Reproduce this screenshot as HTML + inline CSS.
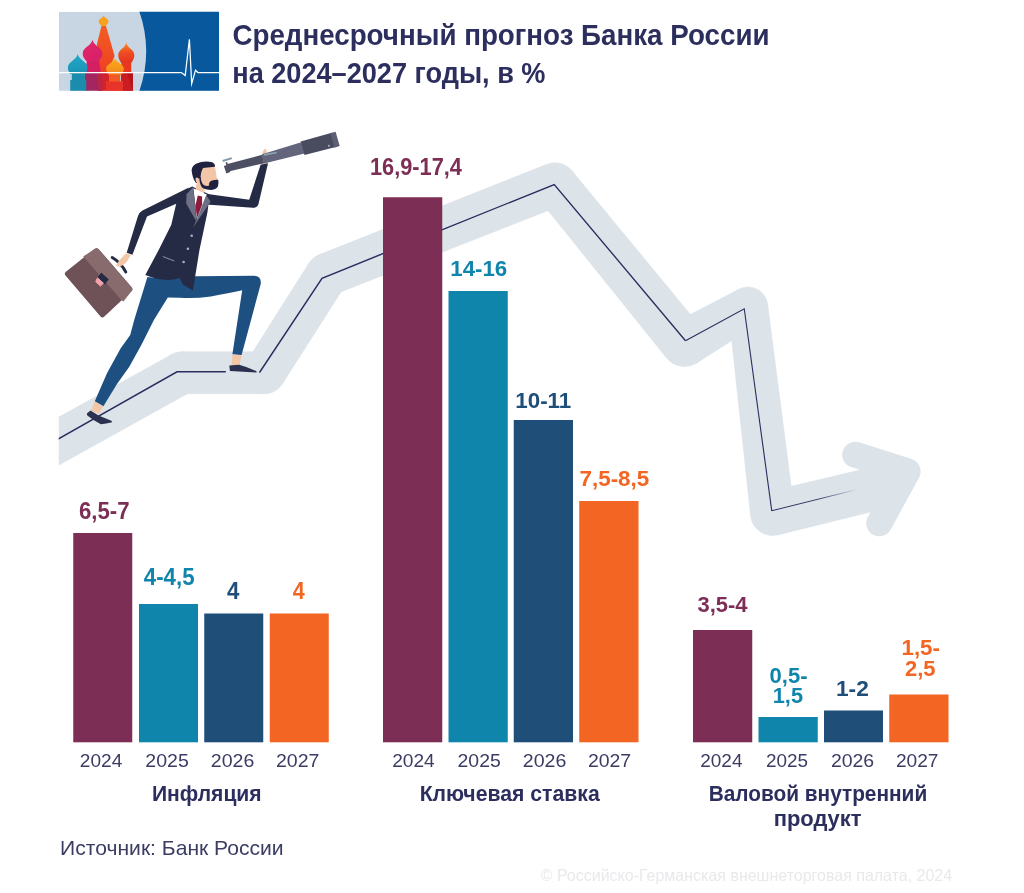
<!DOCTYPE html>
<html lang="ru">
<head>
<meta charset="utf-8">
<title>Среднесрочный прогноз Банка России</title>
<style>
html,body{margin:0;padding:0;background:#fff;}
body{width:1024px;height:893px;overflow:hidden;position:relative;font-family:"Liberation Sans",sans-serif;}
svg{position:absolute;left:0;top:0;display:block;}
text{font-family:"Liberation Sans",sans-serif;}
.t{font-size:29.5px;font-weight:bold;fill:#2c2e5e;}
.yr{font-size:19px;fill:#3a3c64;}
.val{font-size:22.5px;font-weight:bold;}
.cat{font-size:22.8px;font-weight:bold;fill:#2c2e5e;}
.src{font-size:21px;fill:#3a3c64;}
.cp{font-size:16.5px;fill:#e9e9ec;}
</style>
</head>
<body>
<svg width="1024" height="893" viewBox="0 0 1024 893">
<defs>
<clipPath id="logoclip"><rect x="59" y="11.7" width="160" height="79"/></clipPath>
<clipPath id="bandclip"><rect x="58.75" y="100" width="965" height="600"/></clipPath>
</defs>
<rect width="1024" height="893" fill="#ffffff"/>

<!-- LOGO -->
<defs>
<linearGradient id="gTeal" x1="0" y1="0" x2="0" y2="1"><stop offset="0" stop-color="#21a9c9"/><stop offset="1" stop-color="#1b93b4"/></linearGradient>
<linearGradient id="gPink" x1="0" y1="0" x2="1" y2="1"><stop offset="0" stop-color="#e5256f"/><stop offset="1" stop-color="#d51f63"/></linearGradient>
<linearGradient id="gYel" x1="0" y1="0" x2="0" y2="1"><stop offset="0" stop-color="#fbb216"/><stop offset="1" stop-color="#f58220"/></linearGradient>
<linearGradient id="gOr" x1="0" y1="0" x2="0" y2="1"><stop offset="0" stop-color="#f7901e"/><stop offset="0.45" stop-color="#f04e23"/><stop offset="1" stop-color="#e5331f"/></linearGradient>
<linearGradient id="gSp" x1="0" y1="0" x2="0" y2="1"><stop offset="0" stop-color="#f15f22"/><stop offset="1" stop-color="#ee3f23"/></linearGradient>
</defs>
<g id="logo" clip-path="url(#logoclip)">
<rect x="59" y="11.7" width="160" height="79.3" fill="#c8d5e3"/>
<path d="M139.2,11 A122.4,122.4 0 0 1 139.2,91.5 L220,91.5 L220,11 Z" fill="#07589d"/>
<path d="M98,72.5 L115,72.5 L115,91 L98,91 Z" fill="#d7222b"/>
<path d="M101.6,25.5 L105.9,25.5 L114.6,56 L111,65 L111,72.5 L97,72.5 L97,44 Z" fill="url(#gSp)"/>
<path d="M103.6,15.4 C104.09,17.92 108.50,18.48 108.50,21.00 C108.50,23.64 106.61,24.84 105.80,25.80 L101.40,25.80 C100.59,24.84 98.70,23.64 98.70,21.00 C98.70,18.48 103.11,17.92 103.6,15.4 Z" fill="#f9a11b"/>
<path d="M121.3,72.5 L121.3,60 L131.2,60 L131.2,72.5 Z" fill="#e8381f"/>
<path d="M126.3,42.6 C127.10,48.18 134.30,49.42 134.30,55.00 C134.30,59.40 132.13,61.40 131.20,63.00 L121.40,63.00 C120.47,61.40 118.30,59.40 118.30,55.00 C118.30,49.42 125.50,48.18 126.3,42.6 Z" fill="url(#gOr)"/>
<path d="M121.2,72.5 L133,72.5 L133,91 L121.2,91 Z" fill="#b8141c"/>
<path d="M121.2,72.5 L127,72.5 L133,91 L121.2,91 Z" fill="#c91d22"/>
<path d="M87.4,58 L98.6,58 L101,72.5 L85,72.5 Z" fill="#d51f63"/>
<path d="M92.5,39.8 C93.48,45.96 102.30,47.34 102.30,53.50 C102.30,57.90 99.36,59.90 98.10,61.50 L86.90,61.50 C85.64,59.90 82.70,57.90 82.70,53.50 C82.70,47.34 91.52,45.96 92.5,39.8 Z" fill="url(#gPink)"/>
<path d="M84.9,72.5 L101.4,72.5 L101.4,91 L84.9,91 Z" fill="#a32660"/>
<path d="M97,72.5 L103,72.5 L103,91 L99,91 Z" fill="#c0253f"/>
<path d="M77.7,54 C78.68,60.08 87.50,61.42 87.50,67.50 C87.50,71.08 85.89,72.70 85.20,74.00 L70.20,74.00 C69.51,72.70 67.90,71.08 67.90,67.50 C67.90,61.42 76.72,60.08 77.7,54 Z" fill="url(#gTeal)"/>
<path d="M71.8,72.5 L84.9,72.5 L84.9,80 L86.3,80 L86.3,91 L70.2,91 L70.2,80 L71.8,80 Z" fill="#1b8cab"/>
<path d="M115,57.8 C115.89,62.75 123.90,63.85 123.90,68.80 C123.90,72.32 121.73,73.92 120.80,75.20 L109.20,75.20 C108.27,73.92 106.10,72.32 106.10,68.80 C106.10,63.85 114.11,62.75 115,57.8 Z" fill="url(#gYel)"/>
<path d="M109,74.5 L120.2,74.5 L120.2,81.5 L123,81.5 L123,91 L106,91 L106,81.5 L109,81.5 Z" fill="#f15a24"/>
<path d="M106,81.5 L123,81.5 L123,91 L106,91 Z" fill="#e8332a"/>
<path d="M59,72.55 L181.4,72.55 L185.2,75.6 L189.4,39.2 L191.7,83.6 L195.5,70.2 L197.9,72.55 L219,72.55" fill="none" stroke="#ffffff" stroke-width="1.25" stroke-linejoin="miter" stroke-miterlimit="10"/>
</g>

<!-- BAND -->
<defs>
<linearGradient id="fade" gradientUnits="userSpaceOnUse" x1="771.75" y1="510.75" x2="857" y2="489.5"><stop offset="0" stop-color="#2b2d5e"/><stop offset="0.55" stop-color="#2b2d5e" stop-opacity="0.9"/><stop offset="1" stop-color="#2b2d5e" stop-opacity="0"/></linearGradient>
</defs>
<g id="band" clip-path="url(#bandclip)">
<g fill="#dce3e9" stroke="#dce3e9" stroke-width="0.6">
<polygon points="50.19,469.96 192.19,391.11 171.81,354.39 29.81,433.24"/>
<polygon points="182.00,393.75 264.50,393.75 264.50,351.75 182.00,351.75"/>
<polygon points="282.22,384.02 344.93,285.91 309.07,263.09 246.78,361.48"/>
<polygon points="334.80,294.27 562.99,204.73 547.01,164.27 319.20,254.73"/>
<polygon points="538.14,198.24 666.67,358.02 702.33,328.98 571.86,170.76"/>
<polygon points="696.02,363.41 757.89,323.84 738.11,289.66 672.98,323.59"/>
<polygon points="728.39,309.07 750.65,516.09 794.35,510.91 767.61,304.43"/>
<polygon points="777.69,534.88 890.07,507.09 879.93,465.31 767.31,492.12"/>
<circle cx="182" cy="372.75" r="21.00"/>
<circle cx="264.5" cy="372.75" r="21.00"/>
<circle cx="327" cy="274.5" r="21.25"/>
<circle cx="555" cy="184.5" r="21.75"/>
<circle cx="684.5" cy="343.5" r="23.00"/>
<circle cx="748" cy="306.75" r="19.75"/>
<circle cx="772.5" cy="513.5" r="22.00"/>
<circle cx="885" cy="486.2" r="21.50"/>
</g>
<polyline points="855.2,454.7 907.6,471.5 879.3,523.3" fill="none" stroke="#dce3e9" stroke-width="26" stroke-linejoin="round" stroke-linecap="round"/>
<g fill="none" stroke="#2b2d5e" stroke-linejoin="miter">
<polyline points="40,449.4 177,371.75 225.8,371.75" stroke-width="1.45"/>
<polyline points="259.4,372.6 260,371.75 322,278.25 384,253.2" stroke-width="1.45"/>
<polyline points="440,230.6 554.25,184.5 685.5,340.75" stroke-width="1.35"/>
<polyline points="685.5,340.75 744.25,308.75 771.75,510.75" stroke-width="1.1"/>
<polyline points="771.5,509.2 771.75,510.75 857,489.5" stroke-width="1" stroke="url(#fade)"/>
</g>
</g>

<!-- BARS -->
<g id="bars">
<rect x="73.25" y="533" width="59" height="209.3" fill="#7d2e55"/>
<rect x="139" y="604" width="59" height="138.3" fill="#1085ab"/>
<rect x="204.25" y="613.5" width="59" height="128.8" fill="#1f4e79"/>
<rect x="269.75" y="613.5" width="59" height="128.8" fill="#f26522"/>
<rect x="383" y="197.25" width="59.25" height="545.05" fill="#7d2e55"/>
<rect x="448.5" y="291" width="59.25" height="451.3" fill="#1085ab"/>
<rect x="513.75" y="420" width="59.25" height="322.3" fill="#1f4e79"/>
<rect x="579.25" y="501" width="59.25" height="241.3" fill="#f26522"/>
<rect x="693" y="630" width="59.25" height="112.3" fill="#7d2e55"/>
<rect x="758.5" y="717" width="59.25" height="25.3" fill="#1085ab"/>
<rect x="824" y="710.5" width="59" height="31.8" fill="#1f4e79"/>
<rect x="889.25" y="694.5" width="59.25" height="47.8" fill="#f26522"/>
</g>

<!-- MAN -->
<g id="man">
<!-- hand on telescope -->
<path d="M261.5,166 L262.6,152.4 Q264.2,148.2 265.4,148.8 L266.6,150.6 L267.6,166 Z" fill="#f4c6a8"/>
<!-- telescope -->
<g id="scope">
<polygon points="227.5,163.9 262.2,154.8 264.1,163.2 228.6,171.6" fill="#4d5063"/>
<polygon points="262,154.3 301.3,142.2 304.5,153.6 263.9,163.4" fill="#62657b"/>
<polygon points="300.7,141.6 331.8,132.7 334.8,147.2 304.5,154.9" fill="#494c5f"/>
<polygon points="330.5,132.9 335.6,131.7 339.7,146 334.3,147.7" fill="#5d6075"/>
<polygon points="223.9,165.9 228.3,164.5 230.3,171.9 226.3,173.4" fill="#4d5063"/>
<polygon points="225.5,162.4 227.1,161.9 228.1,165 226.5,165.5" fill="#4d5063"/>
<polygon points="222.4,160 231.5,157.2 232.1,159.1 223,162.1" fill="#7f97a8"/>
<polygon points="263.9,154 276.6,151.7 276.8,153.3 264.3,155.8" fill="#8fa6b8"/>
<circle cx="328.9" cy="145.8" r="1" fill="#a9b8c6"/>
</g>
<!-- briefcase -->
<g id="case">
<path d="M112.2,257.5 Q120.6,262.2 125.8,272" fill="none" stroke="#252a45" stroke-width="2.9" stroke-linecap="round"/>
<path d="M94.6,248.9 Q96.9,247.2 98.9,249.4 L131.6,287.2 Q133.3,289.2 131.6,291.1 L104.4,316.6 Q102.2,318.6 100.3,316.2 L65.5,275.5 Q63.9,273.4 65.9,271.7 Z" fill="#6f5257"/>
<path d="M83.2,256.6 L94.6,248.9 Q96.9,247.2 98.9,249.4 L131.6,287.2 Q133.3,289.2 131.6,291.1 L123.4,301.6 L121.6,300.2 Z" fill="#876b6d"/>
<path d="M101.3,273.1 L108.2,279.4 L104.7,283.9 L98.1,277.5 Z" fill="#252a45" stroke="#252a45" stroke-width="1" stroke-linejoin="round"/>
<path d="M97.5,277.9 L103.4,283.2 L100.4,286 L95.7,281.7 Z" fill="#f4a3ad" stroke="#f4a3ad" stroke-width="1" stroke-linejoin="round"/>
</g>
<!-- back arm (holding briefcase) -->
<path d="M188.9,187.5 L142.5,210.6 Q139,212.4 137.8,216.5 L126.7,252.8 L132.4,254.7 L147,216.4 L177.4,203.3 Z" fill="#252a45"/>
<!-- hand with briefcase -->
<path d="M126,253.6 L130.3,255.4 L126,262.3 L121.6,265.5 L117.8,266.8 L116.4,264.8 L120.9,259.1 Z" fill="#f4c6a8" stroke="#f4c6a8" stroke-width="0.8" stroke-linejoin="round"/>
<!-- back leg -->
<path d="M147.4,277 L134.2,320 L130.2,335 Q125,342.5 120.7,348.3 L107.1,373 L94.8,401.3 L103.4,406.2 L117,384 L129.3,366.8 L141.6,344.6 L153.9,320 L167.8,297.6 L175,280 Z" fill="#1d4f80"/>
<!-- front leg -->
<path d="M160,276 L196,276.3 L253.9,275.8 Q261.8,276 260.7,284 L241.6,354.9 L232.4,354.3 L242.2,290.3 Q229,293.2 210.8,296.4 Q195,298.6 180,297.7 L167.8,297.6 Z" fill="#1d4f80"/>
<!-- ankles -->
<polygon points="94.6,401.6 103,406 99.4,414 91.2,410.6" fill="#f4c6a8"/>
<polygon points="232.4,354.6 241.6,355.2 239.4,365.6 231.7,365.2" fill="#f4c6a8"/>
<!-- shoes -->
<path d="M86.8,413.4 L90.5,410.4 L98.5,415.5 L110.8,420.4 Q112.8,421.3 112.1,422.3 Q106,424 100.9,424.2 L93.5,419.9 L87.3,415.6 Z" fill="#2d3150"/>
<path d="M229.3,365.5 L239.1,364.7 Q248,367 256.4,371.2 Q257,372 256.4,372.6 L229.9,371 Z" fill="#2d3150"/>
<!-- jacket -->
<path d="M186.2,189.6 L192.1,186.4 L209.5,194.5 L207.5,212 L199.5,249.7 L192.9,290.6 L182.9,284.6 L179.6,278 Q165,283 145.3,275 L159.7,248.1 L171.3,224.8 L176.3,203.2 Z" fill="#252a45"/>
<!-- front arm -->
<path d="M204,193.6 L249.2,199.8 L260.6,164.8 L268,163.2 L258.6,203.6 Q257.6,208 253,207.8 L206,204.4 Z" fill="#252a45"/>
<!-- neck -->
<polygon points="196.4,183 205.2,187 203.6,194.6 195.6,191.8" fill="#f4c6a8"/>
<!-- shirt -->
<polygon points="193.4,188.2 206.8,194.6 197,220.5" fill="#ffffff"/>
<!-- tie -->
<polygon points="197.8,195.4 202.1,196.6 202.1,204.7 197.2,217.8 195.3,206" fill="#8b1a3c"/>
<!-- lapels -->
<polygon points="192.9,187.3 186.5,194.2 186.2,203.5 196.2,221.2 195.1,202.2" fill="#6d7084"/>
<polygon points="206.2,195.3 210.6,201.6 207.7,205.9 192.9,227.7 196.6,219.5" fill="#6d7084"/>
<!-- buttons -->
<circle cx="191.7" cy="235.7" r="1.3" fill="#a9b1c8"/>
<circle cx="187.9" cy="248.8" r="1.3" fill="#a9b1c8"/>
<circle cx="183.6" cy="262" r="1.3" fill="#a9b1c8"/>
<line x1="162.8" y1="256.6" x2="174.3" y2="261" stroke="#7f86a3" stroke-width="1.1"/>
<!-- head -->
<g id="head">
<path d="M201,166.5 L214.9,166 L216.9,178.2 L218.2,180 L217.5,186.4 L211.6,189.8 L202,187 L196,182.5 L195,176 Z" fill="#f4c6a8"/>
<path d="M191.6,170.2 Q192,165.8 196.6,163.6 Q203,160.6 211.4,162 Q215.6,163.4 214.9,166.8 L203,168 Q200.6,172 200.4,177.5 L198.6,178.8 Q196.8,176.6 195.6,178.2 Q195.2,180.6 197.2,183 L195.6,182.6 Q192.4,178 191.6,170.2 Z" fill="#1f2340"/>
<path d="M199.2,177 L200.8,177 Q201,183 204,185.3 Q207,186.4 209.1,185.6 Q208.4,181.6 212,180.4 Q215.6,179.4 218.2,179.8 Q219,183.6 217.9,186.6 Q215.6,189.8 211.6,189.9 Q205,189.8 202,187.4 Q199.4,184 199.2,177 Z" fill="#1f2340"/>
</g>
</g>

<!-- TEXT -->
<g id="texts">
<text x="232.46" y="45.10" class="t" textLength="537.11" lengthAdjust="spacingAndGlyphs">Среднесрочный прогноз Банка России</text>
<text x="232.26" y="83.20" class="t" textLength="313.25" lengthAdjust="spacingAndGlyphs">на 2024–2027 годы, в %</text>
<text x="78.90" y="518.50" class="val" fill="#7d2e55" textLength="50.61" lengthAdjust="spacingAndGlyphs" style="font-size:24.2px">6,5-7</text>
<text x="143.80" y="584.60" class="val" fill="#1085ab" textLength="50.80" lengthAdjust="spacingAndGlyphs" style="font-size:23.2px">4-4,5</text>
<text x="227.10" y="598.50" class="val" fill="#1f4e79" textLength="12.37" lengthAdjust="spacingAndGlyphs" style="font-size:23.5px">4</text>
<text x="292.70" y="598.50" class="val" fill="#f26522" textLength="11.96" lengthAdjust="spacingAndGlyphs" style="font-size:23.5px">4</text>
<text x="369.98" y="175.20" class="val" fill="#7d2e55" textLength="92.01" lengthAdjust="spacingAndGlyphs" style="font-size:23.7px">16,9-17,4</text>
<text x="450.26" y="275.75" class="val" fill="#1085ab" textLength="57.00" lengthAdjust="spacingAndGlyphs">14-16</text>
<text x="515.26" y="407.50" class="val" fill="#1f4e79" textLength="56.01" lengthAdjust="spacingAndGlyphs">10-11</text>
<text x="579.50" y="486.25" class="val" fill="#f26522" textLength="69.76" lengthAdjust="spacingAndGlyphs">7,5-8,5</text>
<text x="697.50" y="612.00" class="val" fill="#7d2e55" textLength="50.03" lengthAdjust="spacingAndGlyphs">3,5-4</text>
<text x="769.50" y="682.50" class="val" fill="#1085ab" textLength="37.98" lengthAdjust="spacingAndGlyphs">0,5-</text>
<text x="772.78" y="703.00" class="val" fill="#1085ab" textLength="30.21" lengthAdjust="spacingAndGlyphs">1,5</text>
<text x="835.99" y="696.25" class="val" fill="#1f4e79" textLength="32.78" lengthAdjust="spacingAndGlyphs">1-2</text>
<text x="901.51" y="655.00" class="val" fill="#f26522" textLength="38.48" lengthAdjust="spacingAndGlyphs">1,5-</text>
<text x="905.00" y="676.25" class="val" fill="#f26522" textLength="30.50" lengthAdjust="spacingAndGlyphs">2,5</text>
<text x="79.80" y="767.40" class="yr" textLength="42.46" lengthAdjust="spacingAndGlyphs">2024</text>
<text x="145.30" y="767.40" class="yr" textLength="43.48" lengthAdjust="spacingAndGlyphs">2025</text>
<text x="210.80" y="767.40" class="yr" textLength="43.48" lengthAdjust="spacingAndGlyphs">2026</text>
<text x="276.00" y="767.40" class="yr" textLength="43.48" lengthAdjust="spacingAndGlyphs">2027</text>
<text x="392.20" y="767.40" class="yr" textLength="42.56" lengthAdjust="spacingAndGlyphs">2024</text>
<text x="457.50" y="767.40" class="yr" textLength="43.28" lengthAdjust="spacingAndGlyphs">2025</text>
<text x="522.80" y="767.40" class="yr" textLength="43.58" lengthAdjust="spacingAndGlyphs">2026</text>
<text x="587.90" y="767.40" class="yr" textLength="43.28" lengthAdjust="spacingAndGlyphs">2027</text>
<text x="700.20" y="767.40" class="yr" textLength="42.27" lengthAdjust="spacingAndGlyphs">2024</text>
<text x="765.90" y="767.40" class="yr" textLength="42.06" lengthAdjust="spacingAndGlyphs">2025</text>
<text x="830.90" y="767.40" class="yr" textLength="43.28" lengthAdjust="spacingAndGlyphs">2026</text>
<text x="895.90" y="767.40" class="yr" textLength="42.57" lengthAdjust="spacingAndGlyphs">2027</text>
<text x="151.88" y="801.30" class="cat" textLength="109.73" lengthAdjust="spacingAndGlyphs">Инфляция</text>
<text x="419.67" y="801.30" class="cat" textLength="180.03" lengthAdjust="spacingAndGlyphs">Ключевая ставка</text>
<text x="708.69" y="800.90" class="cat" textLength="218.49" lengthAdjust="spacingAndGlyphs">Валовой внутренний</text>
<text x="773.64" y="826.10" class="cat" textLength="87.92" lengthAdjust="spacingAndGlyphs">продукт</text>
<text x="60.10" y="855.30" class="src" textLength="223.54" lengthAdjust="spacingAndGlyphs">Источник: Банк России</text>
<text x="540.70" y="880.80" class="cp" textLength="411.47" lengthAdjust="spacingAndGlyphs">© Российско-Германская внешнеторговая палата, 2024</text>
</g>
</svg>
</body>
</html>
